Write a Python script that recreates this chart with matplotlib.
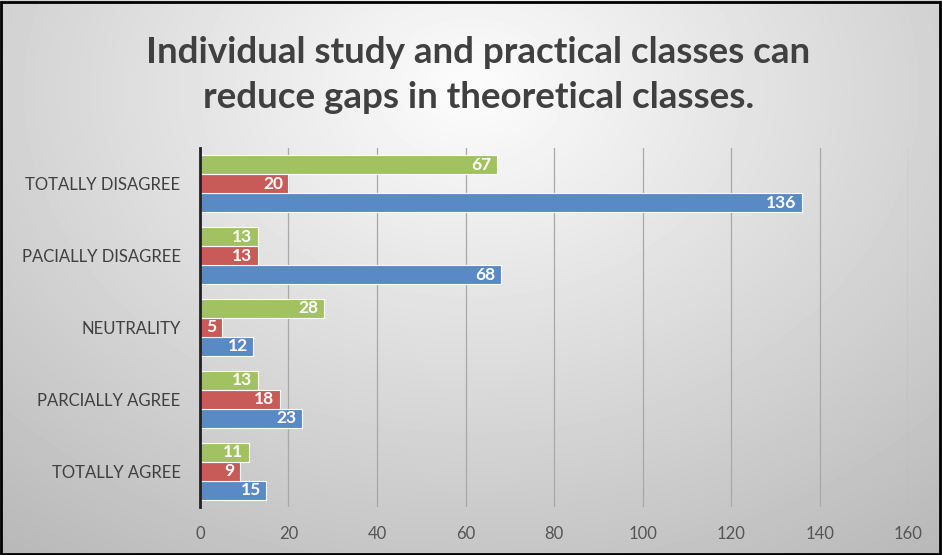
import numpy as np
import matplotlib
matplotlib.use("Agg")
import matplotlib.pyplot as plt

# categories listed bottom-up (as drawn on the y axis)
categories = ["TOTALLY AGREE", "PARCIALLY AGREE", "NEUTRALITY",
              "PACIALLY DISAGREE", "TOTALLY DISAGREE"]
blue_vals = [15, 23, 12, 68, 136]
red_vals = [9, 18, 5, 13, 20]
green_vals = [11, 13, 28, 13, 67]
xticks = [0, 20, 40, 60, 80, 100, 120, 140, 160]
title_lines = ["Individual study and practical classes can",
               "reduce gaps in theoretical classes."]

plt.rcParams['font.family'] = ['Lato', 'DejaVu Sans']

fig = plt.figure(figsize=(9.42, 5.55), dpi=100)

# radial gray background
bg = fig.add_axes([0, 0, 1, 1], zorder=-10)
yy, xx = np.mgrid[0:555, 0:942]
d = np.sqrt(((xx - 471) / 680.0) ** 2 + ((yy - 90) / 520.0) ** 2)
shade = np.clip(0.99 - 0.24 * d, 0.72, 1.0)
bg.imshow(shade, cmap="gray", vmin=0, vmax=1, aspect="auto", extent=[0, 1, 0, 1])
bg.set_axis_off()
fig.patches.append(plt.Rectangle((0.001, 0.002), 0.997, 0.995, transform=fig.transFigure,
                                 fill=False, edgecolor="black", linewidth=2))

ax = fig.add_axes([0.2123, 0.0865, 0.7517, 0.647])
ax.patch.set_alpha(0)

y = np.arange(len(categories))
h = 0.265
colors = {"blue": "#5A8AC6", "red": "#C85A58", "green": "#A2C262"}
for vals, off, c in [(blue_vals, -h, colors["blue"]),
                     (red_vals, 0, colors["red"]),
                     (green_vals, h, colors["green"])]:
    bars = ax.barh(y + off, vals, height=h, color=c, edgecolor="white", linewidth=0.8, zorder=3)
    for b, v in zip(bars, vals):
        ax.text(b.get_width() - 1.2, b.get_y() + b.get_height() / 2, str(v),
                ha="right", va="center", color="white", fontsize=12.5,
                fontweight="bold", zorder=4)

ax.set_xlim(0, 160)
ax.set_ylim(-0.5, len(categories) - 0.5)
ax.set_xticks(xticks)
ax.set_yticks(y)
ax.set_yticklabels(categories)
ax.tick_params(axis="both", length=0, labelsize=12, colors="#404040")
ax.tick_params(axis="x", pad=14, colors="#555555")
ax.tick_params(axis="y", pad=14)
ax.grid(axis="x", color="#a8a8a8", linewidth=0.9, zorder=0)
for s in ["top", "right", "bottom"]:
    ax.spines[s].set_visible(False)
ax.spines["left"].set_color("#222222")
ax.spines["left"].set_linewidth(2)
ax.spines["left"].set_zorder(5)

for ty, line in zip([0.905, 0.825], title_lines):
    fig.text(0.508, ty, line, ha="center", va="center", fontsize=26.5,
             fontweight="bold", color="#404040")

fig.savefig("out.png", dpi=100)
